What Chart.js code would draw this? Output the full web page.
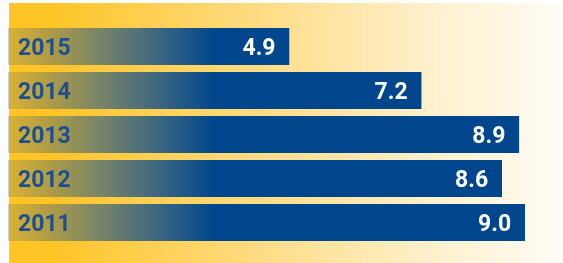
<!DOCTYPE html>
<html>
<head>
<meta charset="utf-8">
<script src="https://cdn.jsdelivr.net/npm/chart.js@4/dist/chart.umd.min.js"></script>
<style>
html,body{margin:0;padding:0;background:#ffffff;}
#wrap{width:563px;height:263px;position:relative;}
</style>
</head>
<body>
<div id="wrap"><canvas id="c" width="563" height="263"></canvas></div>
<script>
const years = ["2015", "2014", "2013", "2012", "2011"];
const values = [4.9, 7.2, 8.9, 8.6, 9.0];
const valueLabels = ["4.9", "7.2", "8.9", "8.6", "9.0"];

const BLUE = "0,70,140";
const FONT = "bold 23px Roboto";

const bgPlugin = {
  id: "bg",
  beforeDraw(chart) {
    const ctx = chart.ctx;
    const x0 = 9, y0 = 3, x1 = chart.width, y1 = chart.height;
    const g = ctx.createLinearGradient(x0, 0, x1, 0);
    g.addColorStop(0, "#FFC526");
    g.addColorStop(0.07, "#FFC425");
    g.addColorStop(0.5, "#FFDF90");
    g.addColorStop(0.75, "#FFEFCA");
    g.addColorStop(1, "#FFFDF8");
    ctx.save();
    ctx.fillStyle = g;
    ctx.fillRect(x0, y0, x1 - x0, y1 - y0);
    ctx.restore();
  }
};

const labelPlugin = {
  id: "labels",
  afterDatasetsDraw(chart) {
    const ctx = chart.ctx;
    const meta = chart.getDatasetMeta(0);
    ctx.save();
    ctx.font = FONT;
    ctx.textBaseline = "alphabetic";
    meta.data.forEach((bar, i) => {
      const y = bar.y + 8.5;
      ctx.fillStyle = "#1B4F92";
      ctx.textAlign = "left";
      ctx.fillText(years[i], bar.base + 10, y);
      ctx.fillStyle = "#ffffff";
      ctx.textAlign = "right";
      ctx.fillText(valueLabels[i], bar.x - 14, y);
    });
    ctx.restore();
  }
};

new Chart(document.getElementById("c"), {
  type: "bar",
  data: {
    labels: years,
    datasets: [{
      data: values,
      backgroundColor(context) {
        const chart = context.chart;
        const area = chart.chartArea;
        if (!area) return "rgb(" + BLUE + ")";
        const g = chart.ctx.createLinearGradient(area.left, 0, 215, 0);
        g.addColorStop(0, "rgba(" + BLUE + ",0.15)");
        g.addColorStop(1, "rgba(" + BLUE + ",1)");
        return g;
      },
      borderColor: "#C9D2E2",
      borderWidth: {left: 1, top: 0, right: 0, bottom: 0},
      borderSkipped: false,
      barPercentage: 0.84,
      categoryPercentage: 1.0
    }]
  },
  options: {
    indexAxis: "y",
    responsive: false,
    animation: false,
    layout: {padding: {top: 24.5, bottom: 18.5, left: 8, right: 0}},
    plugins: {legend: {display: false}, tooltip: {enabled: false}},
    scales: {
      x: {display: false, min: 0, max: 9.66},
      y: {display: false}
    }
  },
  plugins: [bgPlugin, labelPlugin]
});
</script>
</body>
</html>
